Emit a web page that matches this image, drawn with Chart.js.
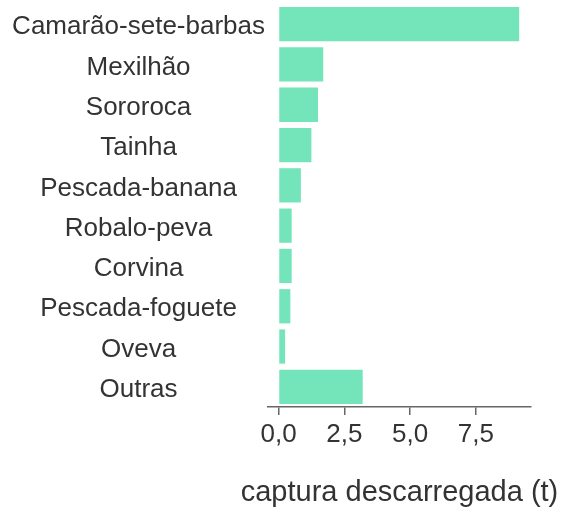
<!DOCTYPE html>
<html>
<head>
<meta charset="utf-8">
<script src="https://cdn.jsdelivr.net/npm/chart.js@4"></script>
<style>
  html, body { margin: 0; padding: 0; background: #fff; }
  #wrap { width: 562px; height: 510px; }
</style>
</head>
<body>
<div id="wrap"><canvas id="myChart" width="562" height="510"></canvas></div>
<script>
const species = [
    'Camarão-sete-barbas',
    'Mexilhão',
    'Sororoca',
    'Tainha',
    'Pescada-banana',
    'Robalo-peva',
    'Corvina',
    'Pescada-foguete',
    'Oveva',
    'Outras'
];
const catch_t = [9.15, 1.7, 1.5, 1.25, 0.85, 0.5, 0.5, 0.45, 0.25, 3.2];
const xTicks = [0, 2.5, 5, 7.5];
const xTitle = 'captura descarregada (t)';

const font = '"Liberation Sans", Arial, sans-serif';
const textColor = '#333333';

// the scale title gets squeezed to the axis width, so draw it ourselves
const axisTitle = {
    id: 'axisTitle',
    afterDraw(chart) {
        const ctx = chart.ctx;
        const area = chart.chartArea;
        ctx.save();
        ctx.font = '29px ' + font;
        ctx.fillStyle = textColor;
        ctx.textAlign = 'center';
        ctx.textBaseline = 'alphabetic';
        ctx.fillText(xTitle, (area.left + area.right) / 2, 501);
        ctx.restore();
    }
};

const data = {
    labels: species,
    datasets: [{
        label: 'captura',
        backgroundColor: '#74e4bb',
        borderWidth: 0,
        data: catch_t,
        barPercentage: 0.85,
        categoryPercentage: 1.0
    }]
};

const config = {
    type: 'bar',
    data: data,
    plugins: [axisTitle],
    options: {
        indexAxis: 'y',
        responsive: false,
        animation: false,
        layout: { padding: { top: 4, right: 31, left: 0, bottom: 0 } },
        plugins: {
            legend: { display: false },
            tooltip: { enabled: false }
        },
        scales: {
            y: {
                grid: { display: false, drawTicks: false },
                border: { display: false },
                ticks: {
                    crossAlign: 'center',
                    padding: 3,
                    labelOffset: 3,
                    color: textColor,
                    font: { family: font, size: 26 }
                },
                afterFit: function (scale) {
                    scale.width = 268;
                    scale.paddingTop = 0;
                    scale.paddingBottom = 0;
                }
            },
            x: {
                min: -0.4,
                max: 9.6,
                afterBuildTicks: function (scale) {
                    scale.ticks = xTicks.map(v => ({ value: v }));
                },
                grid: {
                    drawOnChartArea: false,
                    drawTicks: true,
                    tickLength: 8,
                    color: '#666666',
                    lineWidth: 1.5
                },
                border: { display: true, color: '#666666', width: 1.5 },
                ticks: {
                    padding: 4,
                    color: textColor,
                    font: { family: font, size: 26 },
                    callback: function (v) { return Number(v).toFixed(1).replace('.', ','); }
                },
                afterFit: function (scale) {
                    scale.height = 103;
                    scale.paddingLeft = 0;
                    scale.paddingRight = 0;
                }
            }
        }
    }
};

const myChart = new Chart(
    document.getElementById('myChart'),
    config
);
</script>
</body>
</html>
